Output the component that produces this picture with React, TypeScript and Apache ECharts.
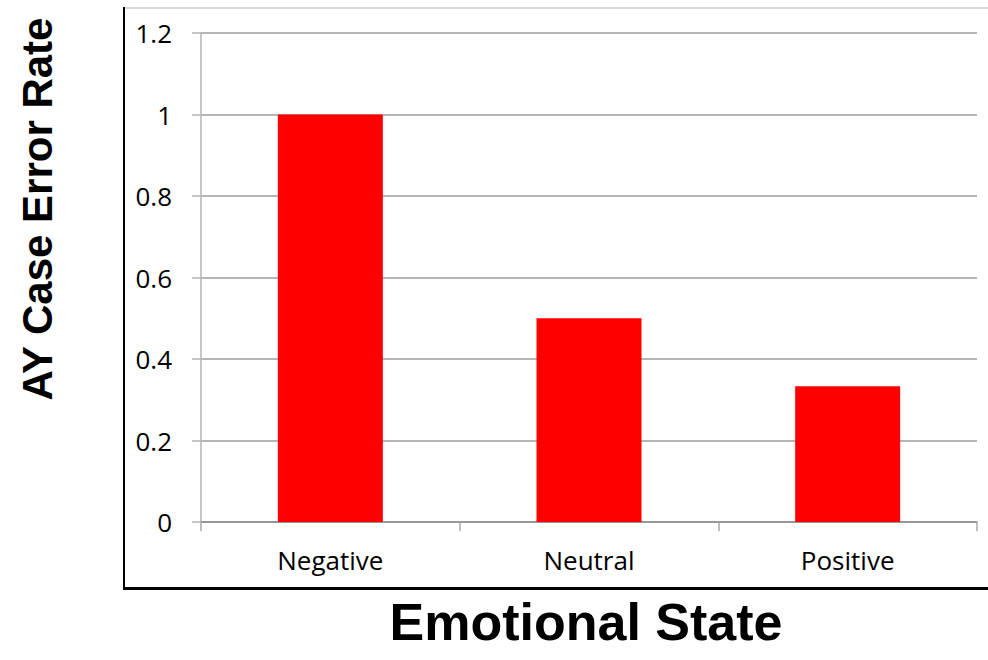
import React, { useEffect, useRef } from "react";
import * as echarts from "echarts";

const categories = ["Negative", "Neutral", "Positive"];
const errorRates = [1.0, 0.5, 0.333];
const yTicks = [0, 0.2, 0.4, 0.6, 0.8, 1, 1.2];
const xTitle = "Emotional State";
const yTitle = "AY Case Error Rate";

export default function App() {
  const ref = useRef<HTMLDivElement>(null);
  useEffect(() => {
    if (!ref.current) return;
    const chart = echarts.init(ref.current, null, { renderer: "svg" });
    chart.setOption({
      animation: false,
      backgroundColor: "#ffffff",
      grid: { left: 201, right: 11, top: 33, bottom: 138, containLabel: false },
      xAxis: {
        type: "category",
        data: categories,
        axisLine: { show: true, lineStyle: { color: "#8c8c8c", width: 1.5 } },
        axisTick: { show: true, length: 9, alignWithLabel: false, lineStyle: { color: "#a8a8a8", width: 1.5 } },
        axisLabel: { color: "#000", fontFamily: "Open Sans", fontSize: 26, margin: 25 },
        splitLine: { show: false },
      },
      yAxis: {
        type: "value",
        min: 0,
        max: 1.2,
        interval: 0.2,
        axisLine: { show: true, lineStyle: { color: "#b4b4b4", width: 1.5 } },
        axisTick: { show: true, length: 9, lineStyle: { color: "#b4b4b4", width: 1.5 } },
        axisLabel: {
          color: "#000",
          fontFamily: "Open Sans",
          fontSize: 26,
          margin: 29,
          formatter: (v: number) => {
            const t = yTicks.find((x) => Math.abs(x - v) < 1e-9);
            return t === undefined ? "" : String(t);
          },
        },
        splitLine: { show: true, lineStyle: { color: "#9c9c9c", width: 1.5 } },
      },
      series: [
        {
          type: "bar",
          data: errorRates,
          barWidth: 105,
          itemStyle: { color: "#ff0000" },
        },
      ],
      graphic: [
        { type: "rect", shape: { x: 124, y: 7, width: 870, height: 2 }, style: { fill: "#d9d9d9" } },
        { type: "rect", shape: { x: 123, y: 7, width: 2, height: 583 }, style: { fill: "#000" } },
        { type: "rect", shape: { x: 123, y: 587, width: 870, height: 3 }, style: { fill: "#000" } },
        {
          type: "text",
          x: 586,
          y: 622,
          style: {
            text: xTitle,
            font: "bold 52px 'Liberation Sans', Arial, sans-serif",
            fill: "#000",
            textAlign: "center",
            textVerticalAlign: "middle",
          },
        },
        {
          type: "text",
          x: 37,
          y: 209,
          rotation: Math.PI / 2,
          style: {
            text: yTitle,
            font: "bold 42px 'Liberation Sans', Arial, sans-serif",
            fill: "#000",
            textAlign: "center",
            textVerticalAlign: "middle",
          },
        },
      ],
    });
    return () => chart.dispose();
  }, []);
  return <div ref={ref} style={{ width: 988, height: 660, position: "fixed", left: 0, top: 0 }} />;
}
